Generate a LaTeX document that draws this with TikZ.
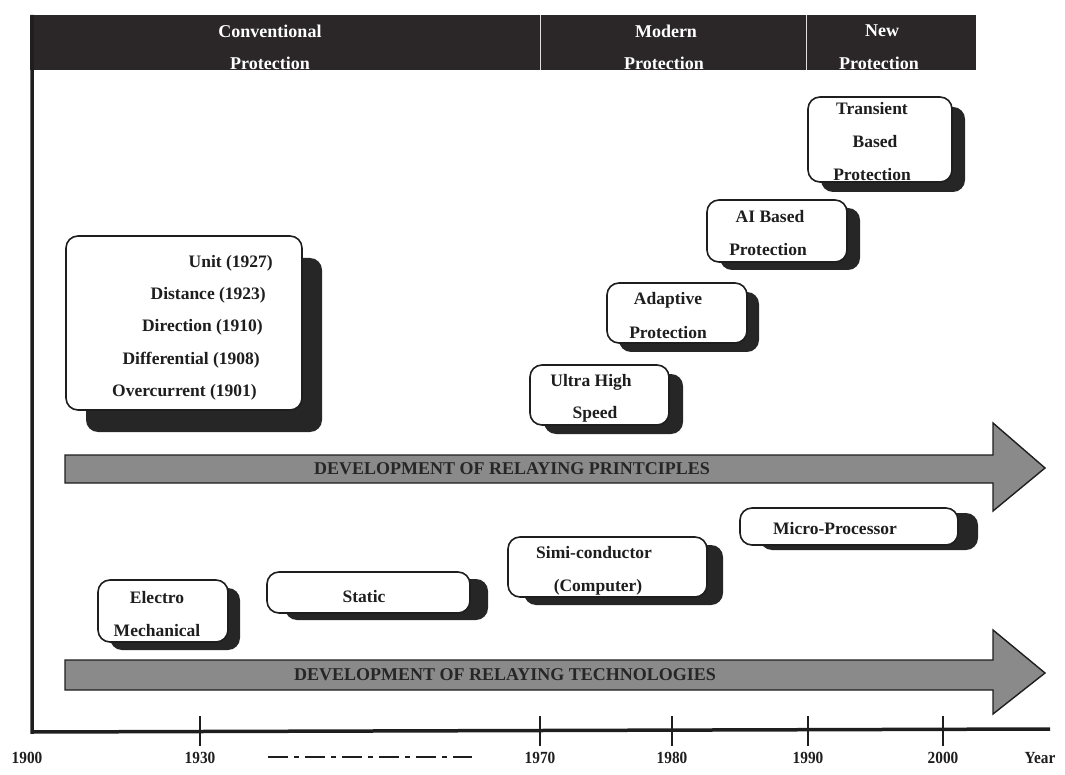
\documentclass[tikz,border=0pt]{standalone}
\usepackage{fontspec}
\setmainfont{Liberation Serif}
\usetikzlibrary{shadows}
\definecolor{headc}{HTML}{2B2627}
\definecolor{shadowc}{HTML}{262626}
\definecolor{arrowc}{HTML}{8A8A8A}
\definecolor{inkc}{HTML}{1E1E1E}
\begin{document}
\begin{tikzpicture}[x=1pt,y=-1pt,
  fnt/.style={font=\fontsize{#1}{#1}\selectfont\bfseries},
  boxnode/.style={draw=inkc, line width=1.6pt, fill=white, rounded corners=12pt, inner sep=0pt},
  sh/.style 2 args={drop shadow={shadow xshift=#1pt, shadow yshift=-#2pt, opacity=1, fill=shadowc}},
  txt/.style={fnt=17.5, text=inkc, inner sep=0pt},
  headtxt/.style={fnt=18, text=white, inner sep=0pt},
  yeartxt/.style={fnt=17, text=inkc, inner sep=0pt, xscale=0.9},
  arrowtxt/.style={fnt=18, text=black!85, inner sep=0pt},
  bigarrow/.style={draw=inkc, line width=1.4pt, fill=arrowc, line join=miter}
]
\useasboundingbox (0,0) rectangle (1065,775);

% header band
\fill[headc] (30,15) rectangle (976,70);
\draw[white!75!gray, line width=1pt] (540,15) -- (540,70);
\draw[white!75!gray, line width=1pt] (806,15) -- (806,70);
\node[headtxt] (hc1) at (270,31) {Conventional};
\node[headtxt] (hc2) at (270,63) {Protection};
\node[headtxt] (hm1) at (666,31) {Modern};
\node[headtxt] (hm2) at (664,63) {Protection};
\node[headtxt] (hn1) at (882,31) {New};
\node[headtxt] (hn2) at (879,63) {Protection};

% axes
\draw[inkc, line width=3.5pt] (32,15) -- (32,732) -- (1050,729);
\foreach \x in {200, 540, 672, 808, 943}
  \draw[inkc, line width=1.3pt] (\x,716) -- (\x,746);
\node[yeartxt] (y1900) at (27,758) {1900};
\node[yeartxt] (y1930) at (200,758) {1930};
\node[yeartxt] (y1970) at (540,758) {1970};
\node[yeartxt] (y1980) at (672,758) {1980};
\node[yeartxt] (y1990) at (808,758) {1990};
\node[yeartxt] (y2000) at (943,758) {2000};
\node[yeartxt] (yyear) at (1040,758) {Year};
\coordinate (gapa) at (268,757);
\coordinate (gapb) at (472,757);
\draw[inkc, line width=1.6pt, dash pattern=on 20pt off 6pt on 5pt off 6pt] (gapa) -- (gapb);

% development arrows
\draw[bigarrow] (65,455) -- (993,455) -- (993,423) -- (1045,468) -- (993,511) -- (993,483) -- (65,483) -- cycle;
\node[arrowtxt] (princ) at (512,469) {DEVELOPMENT OF RELAYING PRINTCIPLES};
\draw[bigarrow] (65,660) -- (993,660) -- (993,630) -- (1045,673) -- (993,714) -- (993,690) -- (65,690) -- cycle;
\node[arrowtxt] (techn) at (505,675) {DEVELOPMENT OF RELAYING TECHNOLOGIES};

% conventional principles
\node[boxnode, sh={20}{22}, minimum width=236pt, minimum height=174pt] (conv) at (184,323) {};
\node[txt, anchor=east] (unit) at (273,263) {Unit (1927)};
\node[txt, anchor=east] (dist) at (266,295) {Distance (1923)};
\node[txt, anchor=east] (dirn) at (263,327) {Direction (1910)};
\node[txt, anchor=east] (diff) at (260,360) {Differential (1908)};
\node[txt, anchor=east] (over) at (257,392) {Overcurrent (1901)};

% modern and new principles
\node[boxnode, sh={14}{9}, minimum width=139pt, minimum height=60pt] (ultra) at (599.5,395) {};
\node[txt] (ultra1) at (591,382) {Ultra High};
\node[txt] (ultra2) at (595,414) {Speed};

\node[boxnode, sh={12}{9}, minimum width=140pt, minimum height=60pt] (adapt) at (677,313) {};
\node[txt] (adapt1) at (668,300) {Adaptive};
\node[txt] (adapt2) at (668,333) {Protection};

\node[boxnode, sh={13}{8}, minimum width=140pt, minimum height=62pt] (aib) at (777,231) {};
\node[txt] (aib1) at (770,217) {AI Based};
\node[txt] (aib2) at (768,250) {Protection};

\node[boxnode, sh={13}{10}, minimum width=144pt, minimum height=85pt] (trans) at (880,139.5) {};
\node[txt] (trans1) at (872,109) {Transient};
\node[txt] (trans2) at (875,142) {Based};
\node[txt] (trans3) at (872,175) {Protection};

% technologies
\node[boxnode, sh={12}{8}, minimum width=130pt, minimum height=62pt] (elec) at (163,611) {};
\node[txt] (elec1) at (157,598) {Electro};
\node[txt] (elec2) at (157,631) {Mechanical};

\node[boxnode, sh={18}{7}, minimum width=203pt, minimum height=41pt] (stat) at (368.5,592.5) {};
\node[txt] (stat1) at (364,597) {Static};

\node[boxnode, sh={16}{8}, minimum width=199pt, minimum height=60pt] (semi) at (607.5,567) {};
\node[txt] (semi1) at (594,553) {Simi-conductor};
\node[txt] (semi2) at (598,587) {(Computer)};

\node[boxnode, sh={20}{5}, minimum width=218pt, minimum height=37pt] (micro) at (849,526.5) {};
\node[txt] (micro1) at (835,529) {Micro-Processor};
\end{tikzpicture}
\end{document}
